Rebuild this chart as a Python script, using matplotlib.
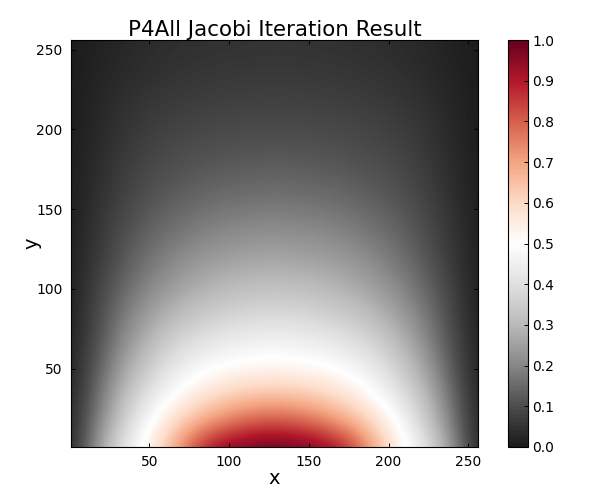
import numpy as np
import matplotlib
matplotlib.use("Agg")
import matplotlib.pyplot as plt

# grid samples
x_samples = [1, 17, 33, 49, 65, 81, 97, 113, 128.5, 144, 160, 176, 192, 208, 224, 240, 256]
y_samples = [1, 17, 33, 49, 65, 81, 97, 113, 128.5, 144, 160, 176, 192, 208, 224, 240, 256]

row_001 = [.02, .22, .41, .53, .68, .86, .95, .985, 1.0, .985, .95, .86, .68, .53, .41, .22, .02]
row_017 = [.02, .18, .34, .48, .59, .68, .75, .80, .82, .80, .75, .68, .59, .48, .34, .18, .02]
row_033 = [.02, .15, .30, .41, .50, .565, .615, .645, .655, .645, .615, .565, .50, .41, .30, .15, .02]
row_049 = [.015, .125, .25, .35, .43, .485, .515, .53, .535, .53, .515, .485, .43, .35, .25, .125, .015]
row_065 = [.015, .105, .21, .30, .37, .415, .445, .46, .47, .46, .445, .415, .37, .30, .21, .105, .015]
row_081 = [.012, .09, .18, .25, .31, .35, .375, .39, .40, .39, .375, .35, .31, .25, .18, .09, .012]
row_097 = [.01, .08, .15, .21, .255, .29, .315, .33, .335, .33, .315, .29, .255, .21, .15, .08, .01]
row_113 = [.01, .065, .125, .175, .215, .245, .265, .275, .28, .275, .265, .245, .215, .175, .125, .065, .01]
row_129 = [.01, .055, .105, .15, .18, .205, .22, .23, .235, .23, .22, .205, .18, .15, .105, .055, .01]
row_145 = [.01, .05, .09, .125, .15, .17, .185, .19, .195, .19, .185, .17, .15, .125, .09, .05, .01]
row_161 = [.008, .04, .075, .105, .125, .14, .15, .155, .16, .155, .15, .14, .125, .105, .075, .04, .008]
row_177 = [.008, .035, .065, .09, .105, .115, .125, .128, .13, .128, .125, .115, .105, .09, .065, .035, .008]
row_193 = [.006, .03, .055, .075, .088, .097, .102, .105, .107, .105, .102, .097, .088, .075, .055, .03, .006]
row_209 = [.006, .026, .047, .063, .073, .08, .084, .086, .088, .086, .084, .08, .073, .063, .047, .026, .006]
row_225 = [.005, .022, .038, .05, .059, .064, .068, .07, .071, .07, .068, .064, .059, .05, .038, .022, .005]
row_241 = [.004, .018, .03, .04, .047, .052, .055, .057, .058, .057, .055, .052, .047, .04, .03, .018, .004]
row_256 = [.003, .015, .026, .034, .04, .044, .047, .049, .05, .049, .047, .044, .04, .034, .026, .015, .003]

field = np.array([row_001, row_017, row_033, row_049, row_065, row_081, row_097, row_113, row_129,
                  row_145, row_161, row_177, row_193, row_209, row_225, row_241, row_256])

xticks = [50, 100, 150, 200, 250]
yticks = [50, 100, 150, 200, 250]
cticks = [0.0, 0.1, 0.2, 0.3, 0.4, 0.5, 0.6, 0.7, 0.8, 0.9, 1.0]

plt.rcParams['xtick.direction'] = 'in'
plt.rcParams['ytick.direction'] = 'in'
plt.rcParams['xtick.top'] = True
plt.rcParams['ytick.right'] = True

fig = plt.figure(figsize=(6, 4.97), dpi=100)
ax = fig.add_axes([71 / 600, 1 - 447 / 497, 407 / 600, 407 / 497])
cax = fig.add_axes([508 / 600, 1 - 447 / 497, 20 / 600, 407 / 497])

half = (x_samples[1] - x_samples[0]) / 2
im = ax.imshow(field, origin='lower', cmap='RdGy_r', vmin=0, vmax=1, aspect='auto',
               interpolation='bicubic', interpolation_stage='data',
               extent=(x_samples[0] - half, x_samples[-1] + half, y_samples[0] - half, y_samples[-1] + half))
ax.set_xlim(1, 256)
ax.set_ylim(1, 256)
ax.set_xticks(xticks)
ax.set_yticks(yticks)
ax.tick_params(labelsize=10, color='black', length=3, width=0.7, pad=6)
ax.set_xlabel('x', fontsize=14, labelpad=0)
ax.set_ylabel('y', fontsize=14, labelpad=-4)
ax.set_title('P4All Jacobi Iteration Result', fontsize=15.4, pad=2)

cb = fig.colorbar(im, cax=cax, ticks=cticks)
cb.ax.tick_params(labelsize=10, direction='in', right=True, length=3, width=0.7, pad=3)
cb.ax.set_yticklabels(['%.1f' % t for t in cticks])

fig.savefig('out.png', dpi=100)
